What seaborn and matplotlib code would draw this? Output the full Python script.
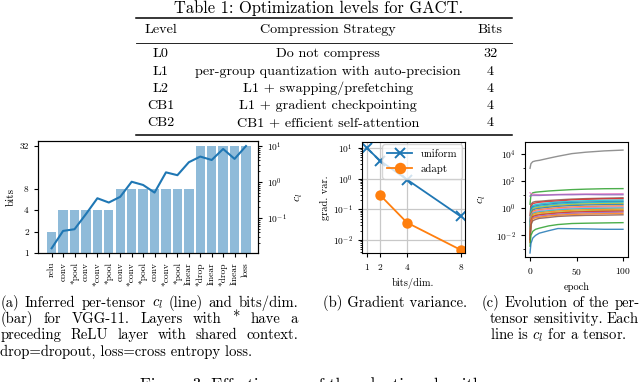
import numpy as np
import pandas as pd
import matplotlib
matplotlib.use("Agg")
import matplotlib.pyplot as plt
import matplotlib.ticker as mticker
import seaborn as sns

# ---------------- data ----------------
table_title = "Table 1: Optimization levels for GACT."
table_header = ["Level", "Compression Strategy", "Bits"]
table_levels = ["L0", "L1", "L2", "CB1", "CB2"]
table_strategies = ["Do not compress",
                    "per-group quantization with auto-precision",
                    "L1 + swapping/prefetching",
                    "L1 + gradient checkpointing",
                    "CB1 + efficient self-attention"]
table_bits = ["32", "4", "4", "4", "4"]

# (a) VGG-11 per-layer bits and c_l
layer_names = ["relu", "conv", "*pool", "conv", "*conv", "*pool", "conv", "*conv", "*pool",
               "conv", "*conv", "*pool", "linear", "*drop", "linear", "*drop", "linear", "loss"]
layer_bits = [2, 4, 4, 4, 4, 4, 8, 8, 8, 8, 8, 8, 8, 32, 32, 32, 32, 32]
layer_cl = [0.0145, 0.044, 0.049, 0.129, 0.355, 0.27, 0.39, 1.02, 0.83, 0.51,
            1.86, 1.55, 3.55, 5.1, 4.1, 8.3, 4.4, 10.0]

# (b) gradient variance
bits_uniform = [1, 2, 4, 8]
var_uniform = [10.0, 3.8, 0.93, 0.059]
bits_adapt = [2, 4, 8]
var_adapt = [0.29, 0.037, 0.0048]

# (c) per-tensor sensitivity c_l read at selected epochs
epochs = [0, 1, 3, 6, 10, 20, 30, 45, 60, 80, 100]
sens_colors = ["#7f7f7f", "#2ca02c", "#e377c2", "#9467bd", "#8c564b", "#d62728",
               "#17becf", "#1f77b4", "#17becf", "#bcbd22", "#1f77b4", "#ff7f0e",
               "#e377c2", "#17becf", "#ff7f0e", "#bcbd22", "#d62728", "#9467bd",
               "#ff7f0e", "#8c564b", "#2ca02c", "#1f77b4"]
sens_curves = [
    [900, 2000, 2800, 3200, 3500, 5000, 7000, 11000, 14000, 17500, 20000],
    [2.0, 10.0, 14.0, 15.5, 16.5, 19.0, 21.0, 24.0, 26.0, 28.0, 28.5],
    [14.0, 12.5, 11.2, 10.5, 10.0, 10.0, 10.5, 11.2, 11.3, 11.7, 12.0],
    [8.0, 8.5, 8.9, 8.9, 8.9, 9.5, 10.0, 10.0, 10.5, 10.0, 10.0],
    [0.3, 2.0, 2.8, 3.2, 3.3, 3.8, 4.2, 4.8, 5.2, 5.6, 6.0],
    [0.1, 1.3, 2.2, 2.5, 2.8, 3.2, 3.5, 4.2, 4.6, 5.0, 5.2],
    [0.05, 1.0, 1.6, 1.9, 2.1, 2.5, 2.9, 3.3, 3.6, 3.9, 4.1],
    [0.03, 0.8, 1.3, 1.5, 1.7, 2.0, 2.4, 2.7, 2.9, 3.1, 3.3],
    [0.02, 0.6, 1.1, 1.3, 1.4, 1.7, 2.0, 2.3, 2.5, 2.7, 2.8],
    [0.02, 0.5, 0.9, 1.1, 1.2, 1.45, 1.7, 1.9, 2.1, 2.2, 2.3],
    [0.01, 0.4, 0.75, 0.9, 1.0, 1.2, 1.4, 1.6, 1.75, 1.85, 1.9],
    [0.01, 0.3, 0.6, 0.72, 0.8, 0.95, 1.1, 1.25, 1.35, 1.45, 1.5],
    [0.01, 0.25, 0.5, 0.6, 0.68, 0.8, 0.92, 1.05, 1.15, 1.22, 1.25],
    [0.006, 0.2, 0.42, 0.5, 0.56, 0.66, 0.76, 0.88, 0.95, 1.0, 1.05],
    [0.005, 0.17, 0.35, 0.42, 0.47, 0.55, 0.63, 0.72, 0.78, 0.83, 0.86],
    [0.004, 0.14, 0.28, 0.34, 0.38, 0.45, 0.52, 0.6, 0.65, 0.69, 0.72],
    [0.004, 0.12, 0.24, 0.29, 0.33, 0.39, 0.45, 0.52, 0.56, 0.6, 0.62],
    [0.003, 0.1, 0.2, 0.24, 0.27, 0.32, 0.37, 0.42, 0.46, 0.49, 0.52],
    [0.003, 0.08, 0.17, 0.2, 0.22, 0.27, 0.31, 0.35, 0.38, 0.4, 0.42],
    [0.005, 0.06, 0.12, 0.15, 0.18, 0.21, 0.25, 0.28, 0.3, 0.31, 0.33],
    [0.0016, 0.01, 0.02, 0.028, 0.034, 0.05, 0.063, 0.075, 0.079, 0.083, 0.087],
    [0.0005, 0.0025, 0.0063, 0.01, 0.0145, 0.022, 0.032, 0.031, 0.03, 0.028, 0.028],
]

caption_a = ["(a) Inferred per-tensor $c_l$ (line) and bits/dim.",
             "(bar) for VGG-11.  Layers with * have a",
             "preceding ReLU layer with shared context.",
             "drop=dropout, loss=cross entropy loss."]
caption_b = "(b) Gradient variance."
caption_c = ["(c) Evolution of the per-",
             "tensor sensitivity.  Each",
             "line is $c_l$ for a tensor."]
figure_caption = "Figure 3: Effectiveness of the adaptive algorithm."

# ---------------- style ----------------
plt.rcParams.update({
    "font.family": "serif",
    "font.serif": ["cmr10"],
    "mathtext.fontset": "cm",
    "axes.formatter.use_mathtext": True,
    "axes.unicode_minus": False,
    "axes.linewidth": 0.8,
    "xtick.labelsize": 6.8,
    "ytick.labelsize": 6.8,
    "xtick.major.size": 3,
    "ytick.major.size": 3,
    "xtick.minor.size": 1.5,
    "ytick.minor.size": 1.5,
    "axes.labelsize": 7.5,
})

W, H = 640, 382
fig = plt.figure(figsize=(W / 100, H / 100), dpi=100)
fig.patch.set_facecolor("white")


def fx(px):
    return px / W


def fy(py):
    return 1 - py / H


def rect(l, r, t, b):
    return [fx(l), fy(b), fx(r) - fx(l), fy(t) - fy(b)]


# ---------------- table ----------------
TS = 10.2
fig.text(fx(319), fy(8.5), table_title, ha="center", va="center", fontsize=11.9)
for yy, lw in [(18.3, 1.1), (42.7, 0.6), (135, 1.1)]:
    fig.add_artist(plt.Line2D([fx(136), fx(512)], [fy(yy), fy(yy)], color="black", lw=lw))
col_x = [161, 328, 490]
for cx, txt in zip(col_x, table_header):
    fig.text(fx(cx), fy(30), txt, ha="center", va="center", fontsize=TS)
row_y = [54.3, 71.7, 88.7, 106, 122.7]
for ry, lv, st, bt in zip(row_y, table_levels, table_strategies, table_bits):
    fig.text(fx(col_x[0]), fy(ry), lv, ha="center", va="center", fontsize=TS)
    fig.text(fx(col_x[1]), fy(ry), st, ha="center", va="center", fontsize=TS)
    fig.text(fx(col_x[2]), fy(ry), bt, ha="center", va="center", fontsize=TS)

# ---------------- (a) ----------------
axa = fig.add_axes(rect(37.7, 258, 141, 253))
pos = list(range(len(layer_names)))
axa.set_yscale("log", base=2)
sns.barplot(x=pos, y=layer_bits, ax=axa, color="#8fbbd9", saturation=1, width=0.82,
            linewidth=0)
axa.set_ylim(1, 37.6)
axa.set_yticks([1, 2, 4, 8, 32])
axa.set_yticklabels(["1", "2", "4", "8", "32"])
axa.yaxis.set_minor_locator(mticker.NullLocator())
axa.set_xticks(pos)
axa.set_xticklabels(layer_names, rotation=90, fontsize=6.8)
axa.set_ylabel("bits", fontsize=8, labelpad=3)
axa.set_xlabel("")
axb2 = axa.twinx()
axb2.set_yscale("log")
sns.lineplot(x=pos, y=layer_cl, ax=axb2, color="#1f77b4", lw=1.5)
axb2.set_ylim(10 ** -1.97, 10 ** 1.14)
axb2.set_yticks([0.1, 1, 10])
axb2.set_ylabel("$c_l$", fontsize=8.5, labelpad=5)
axa.set_xlim(-1.22, 18.05)

# ---------------- (b) ----------------
axg = fig.add_axes(rect(361.7, 465, 141.7, 253))
axg.set_axisbelow(True)
sns.lineplot(x=bits_uniform, y=var_uniform, ax=axg, color="#1f77b4", marker="x",
             markersize=7, markeredgewidth=1.4, markeredgecolor="#1f77b4", lw=1.3,
             label="uniform")
sns.lineplot(x=bits_adapt, y=var_adapt, ax=axg, color="#ff7f0e", marker="o",
             markersize=7.5, markeredgewidth=0, markeredgecolor="#ff7f0e", lw=1.3,
             label="adapt")
axg.set_yscale("log")
axg.set_ylim(10 ** -2.42, 10 ** 1.2)
axg.set_xlim(0.63, 8.32)
axg.set_xticks([1, 2, 4, 8])
axg.set_yticks([0.01, 0.1, 1, 10])
axg.grid(True, which="major", color="#c8c8c8", lw=0.9)
axg.set_xlabel("bits/dim.", fontsize=7.5)
axg.set_ylabel("grad. var.", fontsize=7.5, labelpad=2)
axg.legend(loc="upper right", fontsize=7.8, handlelength=2.3, borderpad=0.45,
           labelspacing=0.45, framealpha=0.8, borderaxespad=0.25, markerscale=1.1)

# ---------------- (c) ----------------
axc = fig.add_axes(rect(525, 628, 142, 257))
axc.set_yscale("log")
for col, curve in zip(sens_colors, sens_curves):
    sns.lineplot(x=epochs, y=curve, ax=axc, color=col, lw=1.0, alpha=0.85)
axc.set_ylim(10 ** -3.6, 10 ** 4.9)
axc.set_xlim(-5.4, 105.4)
axc.set_yticks([1e-2, 1, 1e2, 1e4])
axc.yaxis.set_minor_locator(mticker.FixedLocator([1e-3, 1e-1, 1e1, 1e3]))
axc.yaxis.set_minor_formatter(mticker.NullFormatter())
axc.set_xticks([0, 50, 100])
axc.set_xlabel("epoch", fontsize=7.5)
axc.set_ylabel("$c_l$", fontsize=8.5, labelpad=6)

# ---------------- captions ----------------
CS = 10.6
renderer = fig.canvas.get_renderer()


def justify(line, x0, x1, ybase):
    words = line.split()
    texts = [fig.text(0, fy(ybase), w, ha="left", va="baseline", fontsize=CS) for w in words]
    widths = [t.get_window_extent(renderer).width for t in texts]
    gap = (x1 - x0 - sum(widths)) / max(len(words) - 1, 1)
    x = x0
    for t, w in zip(texts, widths):
        t.set_x(fx(x))
        x += w + gap


bases = [306.7, 323.0, 339.3, 355.5]
justify(caption_a[0], 0.5, 298, bases[0])
justify(caption_a[1], 0.5, 298, bases[1])
justify(caption_a[2], 0.5, 298, bases[2])
fig.text(fx(0.5), fy(bases[3]), caption_a[3], ha="left", va="baseline", fontsize=CS)
fig.text(fx(322.7), fy(bases[0]), caption_b, ha="left", va="baseline", fontsize=CS)
justify(caption_c[0], 481.7, 639.5, bases[0])
justify(caption_c[1], 490, 638.5, bases[1])
fig.text(fx(490), fy(bases[2]), caption_c[2], ha="left", va="baseline", fontsize=CS)
# figure caption: only its upper part lies inside the crop, as in the reference
fig.text(fx(320), fy(377.5), figure_caption, ha="center", va="top", fontsize=12)

fig.savefig("out.png", dpi=100, facecolor="white")
